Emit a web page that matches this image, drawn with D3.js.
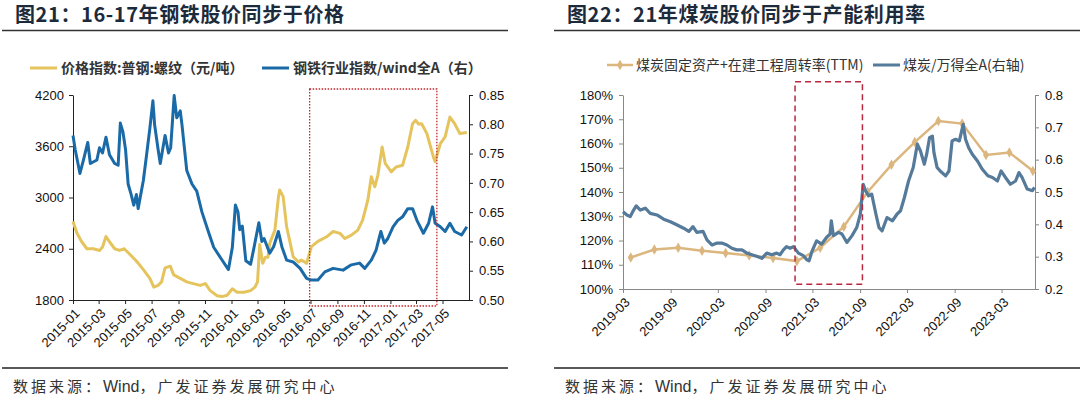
<!DOCTYPE html>
<meta charset="utf-8">
<script src="https://d3js.org/d3.v7.min.js"></script>

<div id="chart"></div>

<style>
body { margin: 0; background: #fff; }
svg { display: block; font-family: "Liberation Sans", Arial, sans-serif; }
.cjk { font-family: "Noto Sans CJK SC", sans-serif; }
.axis text { font-size: 13px; fill: #111; font-family: "Liberation Sans", Arial, sans-serif; }
.axis1 path, .axis1 line { stroke: #222; }
.axis2 path, .axis2 line { stroke: #888; }
</style>

<script>
  var parse = d3.timeParse("%Y-%m-%d");

  // ---------- 图21 data ----------
  var rebarDates = ["2015-01-01","2015-01-10","2015-01-21","2015-02-02","2015-02-17","2015-03-03","2015-03-10","2015-03-18","2015-03-26","2015-04-07","2015-04-18","2015-04-29","2015-05-11","2015-05-27","2015-06-12","2015-06-27","2015-07-06","2015-07-16","2015-07-24","2015-08-01","2015-08-13","2015-08-21","2015-09-05","2015-09-20","2015-10-05","2015-10-21","2015-11-02","2015-11-13","2015-11-29","2015-12-10","2015-12-22","2016-01-03","2016-01-14","2016-01-30","2016-02-14","2016-02-24","2016-03-01","2016-03-06","2016-03-13","2016-03-19","2016-03-25","2016-03-29","2016-04-10","2016-04-18","2016-04-21","2016-04-29","2016-05-07","2016-05-22","2016-06-03","2016-06-10","2016-06-22","2016-07-03","2016-07-18","2016-08-07","2016-08-22","2016-09-07","2016-09-18","2016-10-03","2016-10-18","2016-10-29","2016-11-10","2016-11-18","2016-11-26","2016-12-03","2016-12-13","2016-12-20","2017-01-03","2017-01-14","2017-01-29","2017-02-10","2017-02-21","2017-02-28","2017-03-07","2017-03-14","2017-03-26","2017-04-10","2017-04-14","2017-04-26","2017-05-07","2017-05-18","2017-05-29","2017-06-10","2017-06-26"];
  var rebarPrice = [2720,2584,2482,2400,2400,2380,2420,2543,2482,2400,2380,2400,2339,2257,2155,2053,1951,1971,2012,2176,2196,2094,2053,2012,1992,1971,1992,1910,1850,1840,1855,1931,1890,1890,1910,1951,2012,2450,2230,2300,2300,2463,2618,3000,3088,3010,2657,2307,2246,2268,2229,2424,2486,2540,2602,2580,2520,2560,2618,2734,2968,3243,3125,3260,3591,3400,3300,3357,3377,3591,3864,3903,3860,3864,3748,3475,3419,3632,3710,3941,3864,3748,3760];

  var steelDates = ["2015-01-01","2015-01-06","2015-01-17","2015-01-25","2015-02-04","2015-02-10","2015-02-25","2015-03-03","2015-03-10","2015-03-18","2015-03-26","2015-04-07","2015-04-15","2015-04-20","2015-04-26","2015-05-02","2015-05-08","2015-05-15","2015-05-21","2015-05-27","2015-05-31","2015-06-12","2015-06-19","2015-06-27","2015-07-04","2015-07-08","2015-07-16","2015-07-21","2015-08-01","2015-08-09","2015-08-14","2015-08-22","2015-08-28","2015-09-05","2015-09-09","2015-09-20","2015-10-02","2015-10-13","2015-10-25","2015-11-10","2015-11-21","2015-12-06","2015-12-25","2016-01-03","2016-01-10","2016-01-16","2016-01-20","2016-01-26","2016-02-03","2016-02-14","2016-02-22","2016-03-04","2016-03-11","2016-03-16","2016-03-29","2016-04-07","2016-04-18","2016-04-26","2016-05-07","2016-05-22","2016-06-07","2016-06-22","2016-07-03","2016-07-18","2016-08-03","2016-08-22","2016-09-14","2016-10-03","2016-10-22","2016-11-03","2016-11-18","2016-11-29","2016-12-10","2016-12-18","2016-12-26","2017-01-07","2017-01-18","2017-01-29","2017-02-10","2017-02-21","2017-03-03","2017-03-18","2017-03-30","2017-04-08","2017-04-14","2017-04-26","2017-05-07","2017-05-18","2017-05-29","2017-06-14","2017-06-26"];
  var steelRatio = [0.781,0.757,0.716,0.739,0.769,0.733,0.739,0.760,0.751,0.778,0.748,0.733,0.730,0.802,0.787,0.757,0.698,0.680,0.662,0.680,0.656,0.704,0.745,0.793,0.840,0.799,0.757,0.733,0.781,0.751,0.760,0.849,0.811,0.823,0.799,0.721,0.698,0.686,0.650,0.614,0.590,0.573,0.552,0.590,0.662,0.650,0.620,0.626,0.567,0.561,0.590,0.632,0.600,0.605,0.580,0.591,0.617,0.591,0.568,0.565,0.554,0.537,0.534,0.534,0.548,0.554,0.551,0.560,0.563,0.554,0.568,0.585,0.617,0.597,0.605,0.625,0.636,0.642,0.656,0.656,0.636,0.614,0.631,0.659,0.631,0.625,0.617,0.631,0.617,0.611,0.625];

  var steelXTicks = ["2015-01","2015-03","2015-05","2015-07","2015-09","2015-11","2016-01","2016-03","2016-05","2016-07","2016-09","2016-11","2017-01","2017-03","2017-05"];
  var steelLeftTicks = [1800, 2400, 3000, 3600, 4200];
  var steelRightTicks = [0.50, 0.55, 0.60, 0.65, 0.70, 0.75, 0.80, 0.85];
  var steelBoxDates = ["2016-06-29", "2017-04-18"];
  var steelBoxRange = [1730, 4270];

  // ---------- 图22 data ----------
  var turnoverDates = ["2019-03-31","2019-06-30","2019-09-30","2019-12-31","2020-03-31","2020-06-30","2020-09-30","2020-12-31","2021-03-31","2021-06-30","2021-09-30","2021-12-31","2022-03-31","2022-06-30","2022-09-30","2022-12-31","2023-03-31","2023-06-30"];
  var turnoverRate = [113.0,116.3,117.0,115.8,114.8,113.8,112.8,111.5,117.0,125.7,140.0,151.2,160.6,169.3,168.2,155.3,156.3,148.7];

  var coalDates = ["2019-03-01","2019-03-16","2019-03-29","2019-04-11","2019-04-21","2019-05-07","2019-05-26","2019-06-14","2019-07-10","2019-08-05","2019-08-31","2019-09-26","2019-10-21","2019-11-10","2019-11-26","2019-12-11","2020-01-04","2020-01-19","2020-02-08","2020-02-27","2020-03-16","2020-04-05","2020-04-24","2020-05-13","2020-06-02","2020-06-21","2020-07-10","2020-07-29","2020-08-18","2020-09-06","2020-09-25","2020-10-14","2020-10-27","2020-11-09","2020-11-21","2020-12-05","2020-12-18","2021-01-06","2021-01-25","2021-02-08","2021-02-16","2021-02-28","2021-03-17","2021-04-06","2021-04-25","2021-05-08","2021-05-13","2021-05-21","2021-06-10","2021-06-23","2021-07-12","2021-08-01","2021-08-19","2021-09-02","2021-09-13","2021-09-22","2021-10-04","2021-10-16","2021-11-01","2021-11-13","2021-11-25","2021-12-14","2022-01-04","2022-01-22","2022-02-04","2022-02-19","2022-03-07","2022-03-25","2022-04-10","2022-04-22","2022-05-07","2022-05-16","2022-05-27","2022-06-07","2022-06-13","2022-06-25","2022-07-07","2022-07-28","2022-08-10","2022-08-22","2022-09-04","2022-09-19","2022-10-04","2022-10-13","2022-10-25","2022-11-08","2022-11-28","2022-12-16","2023-01-07","2023-01-25","2023-02-13","2023-02-27","2023-03-16","2023-04-04","2023-04-24","2023-05-07","2023-05-19","2023-06-08","2023-06-28","2023-07-06"];
  var coalRatio = [0.439,0.429,0.424,0.444,0.457,0.444,0.450,0.434,0.429,0.416,0.408,0.398,0.388,0.378,0.393,0.375,0.378,0.352,0.336,0.342,0.342,0.336,0.326,0.321,0.321,0.311,0.306,0.301,0.295,0.311,0.306,0.311,0.306,0.321,0.331,0.326,0.331,0.311,0.303,0.290,0.287,0.318,0.349,0.339,0.360,0.370,0.411,0.365,0.375,0.370,0.344,0.365,0.390,0.432,0.524,0.504,0.488,0.493,0.432,0.390,0.380,0.421,0.411,0.432,0.442,0.483,0.534,0.576,0.648,0.627,0.586,0.617,0.668,0.673,0.622,0.576,0.565,0.550,0.565,0.658,0.663,0.658,0.709,0.663,0.637,0.617,0.596,0.571,0.550,0.545,0.534,0.565,0.545,0.524,0.534,0.560,0.545,0.509,0.504,0.514];

  var coalXTicks = ["2019-03","2019-09","2020-03","2020-09","2021-03","2021-09","2022-03","2022-09","2023-03"];
  var coalLeftTicks = [100, 110, 120, 130, 140, 150, 160, 170, 180];
  var coalRightTicks = [0.2, 0.3, 0.4, 0.5, 0.6, 0.7, 0.8];
  var coalBoxDates = ["2020-12-24", "2021-09-10"];
  var coalBoxRange = [102, 185.5];

  // Boilerplate
  var svg = d3.select("#chart")
              .append("svg")
              .attr("width", 1080)
              .attr("height", 397);

  function zip(dates, vals) {
    return dates.map(function (d, i) { return { date: parse(d), value: vals[i] }; });
  }

  // title, rules and source under each panel
  function frame(x0, x1, textX, title) {
    svg.append("text").attr("class", "cjk")
       .attr("x", textX).attr("y", 22)
       .attr("font-size", 20).attr("font-weight", "bold")
       .attr("letter-spacing", 0.6)
       .attr("fill", "#1c2b3c")
       .text(title);
    svg.append("line").attr("x1", x0).attr("x2", x1).attr("y1", 30.5).attr("y2", 30.5)
       .attr("stroke", "#333").attr("stroke-width", 1.5);
    svg.append("line").attr("x1", x0).attr("x2", x1).attr("y1", 368).attr("y2", 368)
       .attr("stroke", "#222").attr("stroke-width", 1.5);
    var src = svg.append("text").attr("class", "cjk")
       .attr("x", textX - 2).attr("y", 392)
       .attr("font-size", 15).attr("fill", "#333");
    src.append("tspan").attr("letter-spacing", 3).text("数据来源：");
    src.append("tspan").attr("font-family", "Liberation Sans, Arial, sans-serif")
       .attr("font-size", 16).text("Wind");
    src.append("tspan").attr("letter-spacing", 3).text("，广发证券发展研究中心");
  }

  function rotateLabels(g) {
    g.selectAll("text")
     .attr("text-anchor", "end")
     .attr("x", 0).attr("y", 0).attr("dy", "0.35em")
     .attr("transform", "translate(4,11) rotate(-45)");
  }

  // ================= 图21 =================
  frame(2, 508, 15, "图21：16-17年钢铁股价同步于价格");

  var x1 = d3.scaleTime()
             .domain([parse("2015-01-01"), parse("2017-07-01")])
             .range([73, 469]);
  var yL1 = d3.scaleLinear().domain([1800, 4200]).range([300, 95]);
  var yR1 = d3.scaleLinear().domain([0.50, 0.85]).range([300, 95]);

  svg.append("g").attr("class", "axis axis1")
     .attr("transform", "translate(0,300)")
     .call(d3.axisBottom(x1)
             .tickValues(steelXTicks.map(function (m) { return parse(m + "-01"); }))
             .tickFormat(d3.timeFormat("%Y-%m"))
             .tickSize(4).tickSizeOuter(0))
     .call(rotateLabels);

  svg.append("g").attr("class", "axis axis1")
     .attr("transform", "translate(73,0)")
     .call(d3.axisLeft(yL1).tickValues(steelLeftTicks).tickFormat(d3.format("d"))
             .tickSize(4).tickSizeOuter(0).tickPadding(5));

  svg.append("g").attr("class", "axis axis1")
     .attr("transform", "translate(469,0)")
     .call(d3.axisRight(yR1).tickValues(steelRightTicks).tickFormat(d3.format(".2f"))
             .tickSize(4).tickSizeOuter(0).tickPadding(6));

  var rebarLine = d3.line()
                    .x(function (d) { return x1(d.date); })
                    .y(function (d) { return yL1(d.value); });
  var steelLine = d3.line()
                    .x(function (d) { return x1(d.date); })
                    .y(function (d) { return yR1(d.value); });

  svg.append("path").datum(zip(rebarDates, rebarPrice))
     .attr("d", rebarLine).attr("fill", "none")
     .attr("stroke", "#e5c45e").attr("stroke-width", 3).attr("stroke-linejoin", "round");
  svg.append("path").datum(zip(steelDates, steelRatio))
     .attr("d", steelLine).attr("fill", "none")
     .attr("stroke", "#1b6aa8").attr("stroke-width", 3).attr("stroke-linejoin", "round");

  // highlight box
  svg.append("rect")
     .attr("x", x1(parse(steelBoxDates[0])))
     .attr("y", yL1(steelBoxRange[1]))
     .attr("width", x1(parse(steelBoxDates[1])) - x1(parse(steelBoxDates[0])))
     .attr("height", yL1(steelBoxRange[0]) - yL1(steelBoxRange[1]))
     .attr("fill", "none").attr("stroke", "#c0282d")
     .attr("stroke-width", 1.3).attr("stroke-dasharray", "1.5,1.5");

  // legend
  var leg1 = [
    { x: 30, color: "#e5c45e", text: "价格指数:普钢:螺纹（元/吨）" },
    { x: 262, color: "#1b6aa8", text: "钢铁行业指数/wind全A（右）" }
  ];
  leg1.forEach(function (l) {
    svg.append("line").attr("x1", l.x).attr("x2", l.x + 27).attr("y1", 68).attr("y2", 68)
       .attr("stroke", l.color).attr("stroke-width", 3);
    svg.append("text").attr("class", "cjk")
       .attr("x", l.x + 31).attr("y", 73)
       .attr("font-size", 14).attr("font-weight", "bold").attr("fill", "#333")
       .text(l.text);
  });

  // ================= 图22 =================
  frame(554, 1080, 567, "图22：21年煤炭股价同步于产能利用率");

  var x2 = d3.scaleTime()
             .domain([parse("2019-03-01"), parse("2023-07-08")])
             .range([623, 1035]);
  var yL2 = d3.scaleLinear().domain([100, 180]).range([289, 95]);
  var yR2 = d3.scaleLinear().domain([0.2, 0.8]).range([289, 95]);

  svg.append("g").attr("class", "axis axis2")
     .attr("transform", "translate(0,289)")
     .call(d3.axisBottom(x2)
             .tickValues(coalXTicks.map(function (m) { return parse(m + "-01"); }))
             .tickFormat(d3.timeFormat("%Y-%m"))
             .tickSize(4).tickSizeOuter(0))
     .call(rotateLabels);

  svg.append("g").attr("class", "axis axis2")
     .attr("transform", "translate(623,0)")
     .call(d3.axisLeft(yL2).tickValues(coalLeftTicks)
             .tickFormat(function (d) { return d + "%"; })
             .tickSize(4).tickSizeOuter(0).tickPadding(6));

  svg.append("g").attr("class", "axis axis2")
     .attr("transform", "translate(1035,0)")
     .call(d3.axisRight(yR2).tickValues(coalRightTicks).tickFormat(d3.format(".1f"))
             .tickSize(4).tickSizeOuter(0).tickPadding(6));

  svg.selectAll(".axis2 text").attr("font-size", 14);

  var turnover = zip(turnoverDates, turnoverRate);
  var turnLine = d3.line()
                   .x(function (d) { return x2(d.date); })
                   .y(function (d) { return yL2(d.value); });
  var coalLine = d3.line()
                   .x(function (d) { return x2(d.date); })
                   .y(function (d) { return yR2(d.value); });

  svg.append("path").datum(turnover)
     .attr("d", turnLine).attr("fill", "none")
     .attr("stroke", "#dcb67f").attr("stroke-width", 2.5);
  svg.selectAll(".turnMark")
     .data(turnover)
     .enter()
     .append("path")
     .attr("class", "turnMark")
     .attr("transform", function (d) { return "translate(" + x2(d.date) + "," + yL2(d.value) + ")"; })
     .attr("d", d3.symbol(d3.symbolDiamond).size(32))
     .attr("fill", "#dcb67f");

  svg.append("path").datum(zip(coalDates, coalRatio))
     .attr("d", coalLine).attr("fill", "none")
     .attr("stroke", "#557a9a").attr("stroke-width", 3.2).attr("stroke-linejoin", "round");

  svg.append("rect")
     .attr("x", x2(parse(coalBoxDates[0])))
     .attr("y", yL2(coalBoxRange[1]))
     .attr("width", x2(parse(coalBoxDates[1])) - x2(parse(coalBoxDates[0])))
     .attr("height", yL2(coalBoxRange[0]) - yL2(coalBoxRange[1]))
     .attr("fill", "none").attr("stroke", "#b8283f")
     .attr("stroke-width", 1.5).attr("stroke-dasharray", "6,4");

  // legend
  svg.append("line").attr("x1", 607).attr("x2", 633).attr("y1", 65).attr("y2", 65)
     .attr("stroke", "#dcb67f").attr("stroke-width", 2.5);
  svg.append("path").attr("transform", "translate(620,65)")
     .attr("d", d3.symbol(d3.symbolDiamond).size(32)).attr("fill", "#dcb67f");
  svg.append("text").attr("class", "cjk").attr("x", 636).attr("y", 70)
     .attr("font-size", 14).attr("fill", "#333")
     .text("煤炭固定资产+在建工程周转率(TTM)");
  svg.append("line").attr("x1", 873).attr("x2", 900).attr("y1", 65).attr("y2", 65)
     .attr("stroke", "#557a9a").attr("stroke-width", 3);
  svg.append("text").attr("class", "cjk").attr("x", 903).attr("y", 70)
     .attr("font-size", 14).attr("fill", "#333")
     .text("煤炭/万得全A(右轴)");
</script>
